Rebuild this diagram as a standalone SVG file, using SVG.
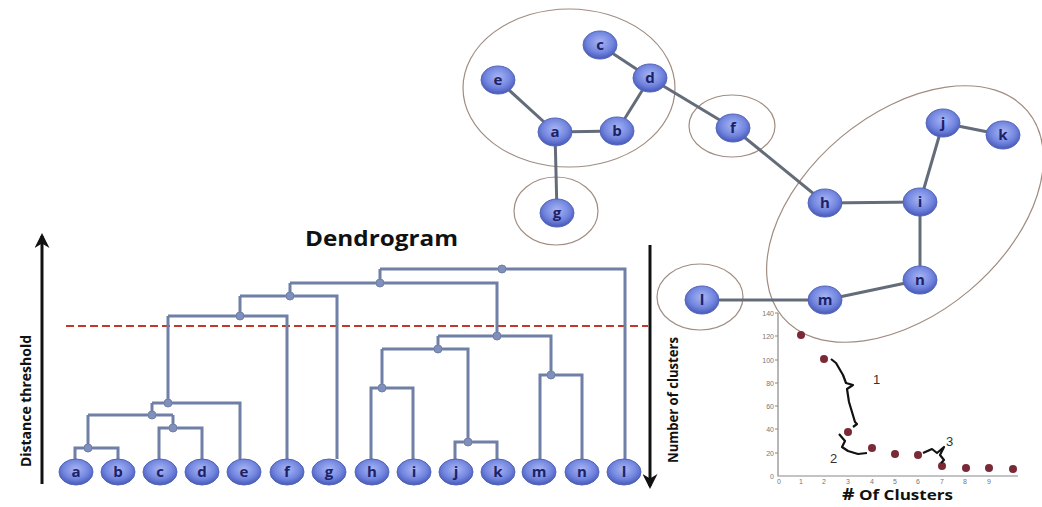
<svg xmlns="http://www.w3.org/2000/svg" width="1042" height="507" viewBox="0 0 1042 507">
<defs>
<radialGradient id="nodeGrad" cx="50%" cy="40%" r="60%">
<stop offset="0" stop-color="#a8b6f4"/>
<stop offset="0.6" stop-color="#7487e0"/>
<stop offset="1" stop-color="#4558b8"/>
</radialGradient>
<marker id="arrow" viewBox="0 0 10 10" refX="8" refY="5" markerWidth="5" markerHeight="5" orient="auto" markerUnits="strokeWidth">
<path d="M0,0 L10,5 L0,10 L3,5 Z" fill="#111"/>
</marker>
<style>
.node ellipse{fill:url(#nodeGrad);stroke:#5566b8;stroke-width:1}
.node text{font-family:"Open Sans","Liberation Sans",sans-serif;font-weight:bold;font-size:15px;fill:#1c2268;text-anchor:middle}
.edge{stroke:#646c7a;stroke-width:3;fill:none}
.dl{stroke:#6f7fa6;stroke-width:3;fill:none}
.dot{fill:#8090bc;stroke:#6f7fa6;stroke-width:1}
.cluster{fill:none;stroke:#a08c80;stroke-width:1.2}
.axis{stroke:#111;stroke-width:3;fill:none}
.lbl{font-family:"Open Sans","Liberation Sans",sans-serif;font-weight:bold;fill:#111}
.tick{font-family:"Liberation Sans",sans-serif;font-size:7px;fill:#777}
.pt{fill:#7a2a36}
.brace{stroke:#111;stroke-width:2.2;fill:none;stroke-linejoin:round}
.num{font-family:"Liberation Sans",sans-serif;font-size:13px;fill:#333}
</style>
</defs>
<rect width="1042" height="507" fill="#fff"/>

<!-- cluster outlines -->
<g id="clusters">
<ellipse class="cluster" cx="569" cy="88" rx="106" ry="79"/>
<ellipse class="cluster" cx="732" cy="126" rx="43" ry="31"/>
<ellipse class="cluster" cx="556" cy="211" rx="42" ry="34"/>
<ellipse class="cluster" cx="700" cy="297" rx="43" ry="33"/>
<ellipse class="cluster" cx="905" cy="214" rx="160" ry="100" transform="rotate(-40 905 214)"/>
</g>

<!-- graph connectors -->
<g id="graph-edges">
<line class="edge" x1="498" y1="80" x2="555" y2="132"/>
<line class="edge" x1="555" y1="132" x2="617" y2="131"/>
<line class="edge" x1="617" y1="131" x2="650" y2="78"/>
<line class="edge" x1="600" y1="45" x2="650" y2="78"/>
<line class="edge" x1="650" y1="78" x2="733" y2="128"/>
<line class="edge" x1="555" y1="132" x2="557" y2="213"/>
<line class="edge" x1="733" y1="128" x2="825" y2="203"/>
<line class="edge" x1="825" y1="203" x2="920" y2="202"/>
<line class="edge" x1="920" y1="202" x2="943" y2="123"/>
<line class="edge" x1="943" y1="123" x2="1003" y2="135"/>
<line class="edge" x1="920" y1="202" x2="920" y2="280"/>
<line class="edge" x1="920" y1="280" x2="825" y2="300"/>
<line class="edge" x1="825" y1="300" x2="702" y2="300"/>
</g>

<!-- graph nodes -->
<g id="g-c" class="node"><ellipse cx="600" cy="45" rx="17" ry="14"/><text x="600" y="50">c</text></g>
<g id="g-d" class="node"><ellipse cx="650" cy="78" rx="17" ry="14"/><text x="650" y="83">d</text></g>
<g id="g-e" class="node"><ellipse cx="498" cy="80" rx="17" ry="14"/><text x="498" y="85">e</text></g>
<g id="g-a" class="node"><ellipse cx="555" cy="132" rx="17" ry="14"/><text x="555" y="137">a</text></g>
<g id="g-b" class="node"><ellipse cx="617" cy="131" rx="17" ry="14"/><text x="617" y="136">b</text></g>
<g id="g-f" class="node"><ellipse cx="733" cy="128" rx="17" ry="14"/><text x="733" y="133">f</text></g>
<g id="g-g" class="node"><ellipse cx="557" cy="213" rx="17" ry="14"/><text x="557" y="218">g</text></g>
<g id="g-h" class="node"><ellipse cx="825" cy="203" rx="17" ry="14"/><text x="825" y="208">h</text></g>
<g id="g-i" class="node"><ellipse cx="920" cy="202" rx="17" ry="14"/><text x="920" y="207">i</text></g>
<g id="g-j" class="node"><ellipse cx="943" cy="123" rx="17" ry="14"/><text x="943" y="128">j</text></g>
<g id="g-k" class="node"><ellipse cx="1003" cy="135" rx="17" ry="14"/><text x="1003" y="140">k</text></g>
<g id="g-n" class="node"><ellipse cx="920" cy="280" rx="17" ry="14"/><text x="920" y="285">n</text></g>
<g id="g-m" class="node"><ellipse cx="825" cy="300" rx="17" ry="14"/><text x="825" y="305">m</text></g>
<g id="g-l" class="node"><ellipse cx="702" cy="300" rx="17" ry="14"/><text x="702" y="305">l</text></g>

<!-- dendrogram title and axes -->
<text class="lbl" x="305" y="246" font-size="22" textLength="153" lengthAdjust="spacingAndGlyphs">Dendrogram</text>
<line class="axis" x1="42" y1="484" x2="42" y2="236" marker-end="url(#arrow)"/>
<text class="lbl" font-size="14" transform="translate(31 467) rotate(-90)" textLength="132" lengthAdjust="spacingAndGlyphs">Distance threshold</text>
<line class="axis" x1="650" y1="245" x2="650" y2="486" marker-end="url(#arrow)"/>
<text class="lbl" font-size="14" transform="translate(678 463) rotate(-90)" textLength="126" lengthAdjust="spacingAndGlyphs">Number of clusters</text>

<!-- threshold -->
<line x1="66" y1="326" x2="648" y2="326" stroke="#c0392b" stroke-width="2.2" stroke-dasharray="8 4"/>

<!-- dendrogram connectors -->
<g id="dendro-links">
<path class="dl" d="M75,459 V448 H118 V459"/>
<path class="dl" d="M88,448 V415"/>
<path class="dl" d="M159,459 V428 H202 V459"/>
<path class="dl" d="M173,428 V415"/>
<path class="dl" d="M88,415 H173"/>
<path class="dl" d="M152,415 V403"/>
<path class="dl" d="M152,403 H240 V459"/>
<path class="dl" d="M168,403 V316"/>
<path class="dl" d="M168,316 H287 V459"/>
<path class="dl" d="M240,316 V296"/>
<path class="dl" d="M240,296 H337 V459"/>
<path class="dl" d="M290,296 V283"/>
<path class="dl" d="M290,283 H497 V336"/>
<path class="dl" d="M380,283 V269"/>
<path class="dl" d="M380,269 H625 V459"/>
<path class="dl" d="M438,336 H551 V375"/>
<path class="dl" d="M438,336 V349"/>
<path class="dl" d="M382,349 H468 V442"/>
<path class="dl" d="M382,349 V388"/>
<path class="dl" d="M371,459 V388 H413 V459"/>
<path class="dl" d="M455,459 V442 H497 V459"/>
<path class="dl" d="M540,459 V375 H582 V459"/>
<circle class="dot" cx="88" cy="448" r="4"/>
<circle class="dot" cx="173" cy="428" r="4"/>
<circle class="dot" cx="152" cy="415" r="4"/>
<circle class="dot" cx="168" cy="403" r="4"/>
<circle class="dot" cx="240" cy="316" r="4"/>
<circle class="dot" cx="290" cy="296" r="4"/>
<circle class="dot" cx="380" cy="283" r="4"/>
<circle class="dot" cx="502" cy="269" r="4"/>
<circle class="dot" cx="497" cy="336" r="4"/>
<circle class="dot" cx="438" cy="349" r="4"/>
<circle class="dot" cx="382" cy="388" r="4"/>
<circle class="dot" cx="468" cy="442" r="4"/>
<circle class="dot" cx="551" cy="375" r="4"/>
</g>

<!-- dendrogram leaves -->
<g id="leaf-a" class="node"><ellipse cx="76" cy="472" rx="17" ry="13"/><text x="76" y="477">a</text></g>
<g id="leaf-b" class="node"><ellipse cx="118" cy="472" rx="17" ry="13"/><text x="118" y="477">b</text></g>
<g id="leaf-c" class="node"><ellipse cx="160" cy="472" rx="17" ry="13"/><text x="160" y="477">c</text></g>
<g id="leaf-d" class="node"><ellipse cx="202" cy="472" rx="17" ry="13"/><text x="202" y="477">d</text></g>
<g id="leaf-e" class="node"><ellipse cx="244" cy="472" rx="17" ry="13"/><text x="244" y="477">e</text></g>
<g id="leaf-f" class="node"><ellipse cx="287" cy="472" rx="17" ry="13"/><text x="287" y="477">f</text></g>
<g id="leaf-g" class="node"><ellipse cx="329" cy="472" rx="17" ry="13"/><text x="329" y="477">g</text></g>
<g id="leaf-h" class="node"><ellipse cx="372" cy="472" rx="17" ry="13"/><text x="372" y="477">h</text></g>
<g id="leaf-i" class="node"><ellipse cx="414" cy="472" rx="17" ry="13"/><text x="414" y="477">i</text></g>
<g id="leaf-j" class="node"><ellipse cx="456" cy="472" rx="17" ry="13"/><text x="456" y="477">j</text></g>
<g id="leaf-k" class="node"><ellipse cx="498" cy="472" rx="17" ry="13"/><text x="498" y="477">k</text></g>
<g id="leaf-m" class="node"><ellipse cx="539" cy="472" rx="17" ry="13"/><text x="539" y="477">m</text></g>
<g id="leaf-n" class="node"><ellipse cx="582" cy="472" rx="17" ry="13"/><text x="582" y="477">n</text></g>
<g id="leaf-l" class="node"><ellipse cx="624" cy="472" rx="17" ry="13"/><text x="624" y="477">l</text></g>

<!-- elbow plot -->
<g id="elbow-plot">
<path d="M778,313 V476 H1018" stroke="#888" stroke-width="1.2" fill="none"/>
<g stroke="#888" stroke-width="1">
<line x1="775" y1="313" x2="778" y2="313"/><line x1="775" y1="336" x2="778" y2="336"/>
<line x1="775" y1="360" x2="778" y2="360"/><line x1="775" y1="383" x2="778" y2="383"/>
<line x1="775" y1="406" x2="778" y2="406"/><line x1="775" y1="429" x2="778" y2="429"/>
<line x1="775" y1="453" x2="778" y2="453"/>
</g>
<g class="tick" text-anchor="end">
<text x="774" y="316">140</text><text x="774" y="339">120</text><text x="774" y="363">100</text>
<text x="774" y="386">80</text><text x="774" y="409">60</text><text x="774" y="432">40</text>
<text x="774" y="456">20</text><text x="774" y="479">0</text>
</g>
<g class="tick" text-anchor="middle">
<text x="779" y="484">0</text><text x="801" y="484">1</text><text x="824" y="484">2</text>
<text x="848" y="484">3</text><text x="872" y="484">4</text><text x="895" y="484">5</text>
<text x="918" y="484">6</text><text x="942" y="484">7</text><text x="965" y="484">8</text>
<text x="989" y="484">9</text>
</g>
<circle class="pt" cx="801" cy="335" r="4"/>
<circle class="pt" cx="824" cy="359" r="4"/>
<circle class="pt" cx="848" cy="432" r="4"/>
<circle class="pt" cx="872" cy="448" r="4"/>
<circle class="pt" cx="895" cy="454" r="4"/>
<circle class="pt" cx="918" cy="455" r="4"/>
<circle class="pt" cx="942" cy="466" r="4"/>
<circle class="pt" cx="966" cy="468" r="4"/>
<circle class="pt" cx="989" cy="468" r="4"/>
<circle class="pt" cx="1013" cy="469" r="4"/>
<path class="brace" d="M831,359 L836,363 L843,375 L846,383 L853,385 L847,389 L849,402 L855,422 L857,424 L853,427"/>
<path class="brace" d="M839,434 L845,441 L842,447 L848,451 L858,454 L867,453"/>
<path class="brace" d="M923,453 L932,449 L937,453 L944,447 L940,455 L944,460 L941,463"/>
<text class="num" x="873" y="384">1</text>
<text class="num" x="830" y="463">2</text>
<text class="num" x="946" y="446">3</text>
<text class="lbl" x="842" y="500" font-size="14" textLength="111" lengthAdjust="spacingAndGlyphs"><tspan font-size="16">#</tspan> Of Clusters</text>
</g>
</svg>
